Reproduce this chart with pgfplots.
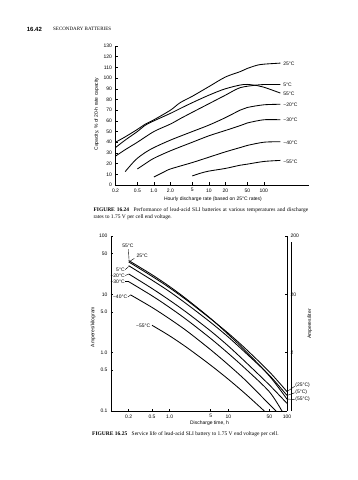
\documentclass[border=0pt]{standalone}
\usepackage{pgfplots}
\pgfplotsset{compat=1.18}
\usepackage{fontspec}
\setmainfont{Liberation Sans}
\newfontfamily\seriffont{Liberation Serif}
\tikzset{lab/.style={font=\fontsize{5}{6}\selectfont, inner sep=0pt}}
\begin{document}
\begin{tikzpicture}[x=1pt,y=1pt]
\path[use as bounding box] (0,0) rectangle (358,480);
% running head
\node[anchor=west,inner sep=0,font=\fontsize{6}{7}\selectfont\bfseries] at (26.7,450.7) {16.42};
\node[anchor=west,inner sep=0,font=\seriffont\fontsize{5}{6}\selectfont] at (53,450.7) {SECONDARY BATTERIES};

\pgfplotsset{
 every axis/.append style={
   scale only axis, clip=false,
   tick align=inside, major tick length=2.5pt,
   tick style={black,line width=0.5pt},
   axis line style={black,line width=0.6pt},
   tick label style={font=\fontsize{5}{6}\selectfont},
   label style={font=\fontsize{5}{6}\selectfont},
   /pgf/number format/assume math mode=true,
   xminorticks=false, yminorticks=false,
 },
 curve/.style={black, line width=0.85pt, smooth, no markers},
}

% ---------------- FIGURE 16.24 ----------------
\begin{axis}[at={(115.5pt,295pt)}, anchor=south west, width=193pt, height=139pt,
 xmode=log, xmin=0.2, xmax=650, ymin=0, ymax=130,
 axis x line*=bottom, axis y line*=left,
 xtick={0.2,0.5,1,2,5,10,20,50,100}, xticklabels={0.2,0.5,1.0,2.0,5,10,20,50,100},
 ytick={0,10,...,130},
 xlabel={Hourly discharge rate (based on 25°C rates)},
 ylabel={Capacity, \% of 20-h rate capacity},
 xlabel style={at={(axis description cs:0.505,-0.1)},anchor=center},
 ylabel style={at={(axis description cs:-0.098,0.51)},anchor=center},
]
% 25 C
\addplot[curve] coordinates {(0.2,40) (0.3,45) (0.5,52) (0.7,57) (1,61) (2,70) (3,77) (5,83) (10,92) (20,101) (37,106) (50,109) (75,112) (100,113) (200,114)};
% 55 C
\addplot[curve] coordinates {(0.2,35) (0.3,42) (0.5,50) (0.7,56) (1,60) (2,67) (3,71.5) (5,77) (10,84) (20,90) (43,94) (75,93) (100,91.5) (200,86)};
% 5 C
\addplot[curve] coordinates {(0.2,27) (0.3,33) (0.5,40) (1,50) (2,57) (3,62) (5,68) (10,76) (20,84) (37,91) (75,93.5) (100,94) (200,94)};
% -20 C
\addplot[curve] coordinates {(0.3,12.5) (0.4,20) (0.5,25) (0.7,30.5) (1,35) (2,42) (5,50) (10,56) (20,63) (37,70) (50,72.5) (100,75) (200,75.5)};
% -30 C
\addplot[curve] coordinates {(0.5,15) (0.7,20) (1,25) (2,32) (5,40) (10,46) (20,51) (37,55.5) (50,58) (100,61) (200,61)};
% -40 C
\addplot[curve] coordinates {(1,7.5) (1.5,12) (2,15) (5,21) (10,26) (20,31) (37,35) (50,37) (100,40) (200,40.5)};
% -55 C
\addplot[curve] coordinates {(5,8.5) (7,11) (10,13) (20,15.5) (37,18.5) (50,19.5) (100,22) (200,23)};
\node[lab,anchor=west] at (axis cs:225,113.7) {25°C};
\node[lab,anchor=west] at (axis cs:225,94) {5°C};
\node[lab,anchor=west] at (axis cs:225,85.7) {55°C};
\node[lab,anchor=west] at (axis cs:225,75.4) {−20°C};
\node[lab,anchor=west] at (axis cs:225,60.7) {−30°C};
\node[lab,anchor=west] at (axis cs:225,39.8) {−40°C};
\node[lab,anchor=west] at (axis cs:225,21.8) {−55°C};
\end{axis}

\node[anchor=west,inner sep=0,font=\seriffont\fontsize{5.5}{6.5}\selectfont] at (93.3,270)
 {\makebox[214.7pt][s]{\textbf{FIGURE 16.24}\hspace{0.8em}Performance of lead-acid SLI batteries at various temperatures and discharge}};
\node[anchor=west,inner sep=0,font=\seriffont\fontsize{5.5}{6.5}\selectfont] at (93.3,263.3)
 {rates to 1.75 V per cell end voltage.};

% ---------------- FIGURE 16.25 ----------------
\begin{axis}[at={(111pt,69pt)}, anchor=south west, width=176pt, height=175pt,
 xmode=log, ymode=log, xmin=0.1, xmax=100, ymin=0.1, ymax=100,
 axis x line*=bottom, axis y line*=left,
 xtick={0.2,0.5,1,5,10,50,100}, xticklabels={0.2,0.5,1.0,5,10,50,100},
 ytick={0.1,0.5,1,5,10,50,100}, yticklabels={0.1,0.5,1.0,5.0,10,50,100},
 xlabel={Discharge time, h},
 ylabel={Amperes/kilogram},
 xlabel style={at={(axis description cs:0.56,-0.069)},anchor=center},
 ylabel style={at={(axis description cs:-0.102,0.48)},anchor=center},
]
% 55 C
\addplot[curve] coordinates {(0.2,38) (0.5,21.7) (1,13.6) (2,8.1) (5,3.85) (10,2.05) (20,1.05) (50,0.40) (100,0.16)};
% 25 C
\addplot[curve] coordinates {(0.2,36) (0.5,20.4) (1,12.9) (2,7.8) (5,3.8) (10,2.15) (20,1.15) (50,0.47) (100,0.215)};
% 5 C
\addplot[curve] coordinates {(0.2,31) (0.5,17.5) (1,11.1) (2,6.7) (5,3.3) (10,1.85) (20,0.98) (50,0.41) (100,0.185)};
% -20 C
\addplot[curve] coordinates {(0.2,22.4) (0.5,12.6) (1,7.9) (2,4.8) (5,2.35) (10,1.3) (20,0.68) (50,0.28) (100,0.135)};
% -30 C
\addplot[curve] coordinates {(0.2,16.5) (0.5,9.45) (1,5.94) (2,3.6) (5,1.75) (10,0.97) (20,0.52) (50,0.214) (82,0.1)};
% -40 C
\addplot[curve] coordinates {(0.215,9.8) (0.5,5.97) (1,3.79) (2,2.32) (5,1.12) (10,0.62) (20,0.33) (50,0.13) (65,0.1)};
% -55 C
\addplot[curve] coordinates {(0.5,2.95) (1,1.94) (2,1.21) (5,0.61) (10,0.35) (20,0.193) (41,0.1)};
% left labels
\node[lab] at (axis cs:0.194,67.6) {55°C};
\draw[line width=0.4pt] (axis cs:0.198,59) -- (axis cs:0.203,39);
\node[lab] at (axis cs:0.339,46) {25°C};
\draw[line width=0.4pt] (axis cs:0.25,41.3) -- (axis cs:0.206,36.5);
\node[lab,anchor=east] at (axis cs:0.172,26.2) {5°C};
\draw[line width=0.4pt] (axis cs:0.175,26.5) -- (axis cs:0.2,30);
\node[lab,anchor=east] at (axis cs:0.172,21.1) {−20°C};
\draw[line width=0.4pt] (axis cs:0.175,21.1) -- (axis cs:0.2,22.2);
\node[lab,anchor=east] at (axis cs:0.172,16.5) {−30°C};
\draw[line width=0.4pt] (axis cs:0.175,16.5) -- (axis cs:0.2,16.5);
\node[lab,anchor=east] at (axis cs:0.19,9.0) {−40°C};
\draw[line width=0.4pt] (axis cs:0.193,9.0) -- (axis cs:0.215,9.7);
\node[lab,anchor=east] at (axis cs:0.47,2.9) {−55°C};
% right labels
\draw[line width=0.4pt] (axis cs:100,0.215) -- (axis cs:135,0.265);
\draw[line width=0.4pt] (axis cs:100,0.185) -- (axis cs:135,0.205);
\draw[line width=0.4pt] (axis cs:100,0.16) -- (axis cs:135,0.158);
\node[lab,anchor=west] at (axis cs:138,0.272) {(25°C)};
\node[lab,anchor=west] at (axis cs:138,0.206) {(5°C)};
\node[lab,anchor=west] at (axis cs:138,0.159) {(55°C)};
\draw[line width=0.4pt] (axis description cs:1.022,0) -- (axis description cs:1.022,0.965);
\end{axis}
\begin{axis}[at={(111pt,69pt)}, anchor=south west, width=176pt, height=175pt,
 xmode=log, ymode=log, xmin=0.1, xmax=100, ymin=0.2, ymax=200,
 axis x line=none, axis y line*=right,
 ytick={2,20,200}, yticklabels={2,20,200},
 ylabel={Amperes/liter},
 ylabel style={at={(axis description cs:1.13,0.497)},anchor=center},
]
\end{axis}

\node[anchor=west,inner sep=0,font=\seriffont\fontsize{5.5}{6.5}\selectfont] at (92,46)
 {\textbf{FIGURE 16.25}\hspace{0.8em}Service life of lead-acid SLI battery to 1.75 V end voltage per cell.};
\end{tikzpicture}
\end{document}
